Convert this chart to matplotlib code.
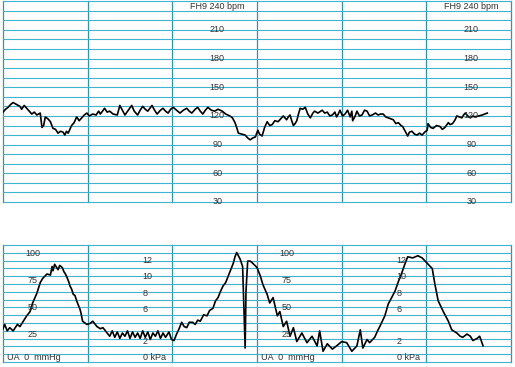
import numpy as np
import matplotlib.pyplot as plt

plt.rcParams['font.family'] = ['Liberation Sans', 'DejaVu Sans']

# fetal heart rate trace (minutes, bpm)
fhr_t = [0.00, 0.03, 0.06, 0.09, 0.12, 0.16, 0.20, 0.22, 0.25, 0.28, 0.31, 0.34, 0.37, 0.40,
         0.44, 0.46, 0.48, 0.50, 0.53, 0.56, 0.59, 0.62, 0.65, 0.68, 0.71, 0.73, 0.75, 0.77,
         0.79, 0.81, 0.84, 0.87, 0.90, 0.93, 0.96, 0.99, 1.02, 1.06, 1.10, 1.13, 1.15, 1.20,
         1.23, 1.26, 1.30, 1.35, 1.38, 1.41, 1.44, 1.48, 1.52, 1.55, 1.59, 1.62, 1.65, 1.68,
         1.71, 1.76, 1.79, 1.82, 1.86, 1.89, 1.92, 1.95, 1.98, 2.01, 2.05, 2.09, 2.13, 2.17,
         2.20, 2.23, 2.27, 2.30, 2.33, 2.36, 2.39, 2.42, 2.46, 2.50, 2.54, 2.59, 2.63, 2.68,
         2.71, 2.74, 2.76, 2.78, 2.82, 2.86, 2.89, 2.92, 2.95, 2.98, 3.01, 3.03, 3.06, 3.09,
         3.12, 3.15, 3.18, 3.21, 3.25, 3.28, 3.31, 3.33, 3.35, 3.37, 3.39, 3.41, 3.43, 3.45,
         3.47, 3.49, 3.51, 3.54, 3.57, 3.60, 3.63, 3.66, 3.68, 3.72, 3.77, 3.80, 3.83, 3.86,
         3.89, 3.92, 3.94, 3.96, 3.98, 4.01, 4.04, 4.07, 4.10, 4.12, 4.13, 4.16, 4.18, 4.21,
         4.24, 4.27, 4.30, 4.33, 4.36, 4.40, 4.43, 4.46, 4.49, 4.52, 4.55, 4.58, 4.61, 4.64,
         4.67, 4.70, 4.72, 4.75, 4.78, 4.80, 4.83, 4.86, 4.89, 4.92, 4.95, 4.98, 5.01, 5.02,
         5.05, 5.08, 5.12, 5.16, 5.19, 5.22, 5.26, 5.28, 5.31, 5.34, 5.36, 5.39, 5.42, 5.44,
         5.46, 5.49, 5.52, 5.55, 5.57, 5.62, 5.66, 5.69, 5.72]
fhr_bpm = [124, 127, 129, 132, 134, 132, 130, 127, 131, 128, 125, 122, 124, 121,
           123, 108, 110, 119, 117, 114, 107, 106, 102, 104, 103, 100, 104, 102,
           106, 110, 113, 119, 115, 118, 121, 123, 120, 122, 121, 125, 122, 128,
           124, 125, 122, 121, 131, 126, 121, 126, 131, 125, 121, 126, 130, 127,
           125, 131, 126, 122, 126, 128, 125, 123, 127, 129, 126, 123, 126, 128,
           125, 123, 127, 129, 125, 122, 126, 129, 126, 125, 127, 125, 122, 120,
           118, 113, 108, 102, 101, 100, 97, 95, 97, 98, 105, 101, 99, 108,
           114, 110, 111, 115, 114, 117, 120, 118, 116, 119, 121, 115, 110, 112,
           115, 122, 128, 127, 129, 122, 118, 123, 125, 123, 126, 123, 124, 120,
           121, 124, 119, 122, 126, 120, 122, 126, 119, 125, 115, 120, 125, 120,
           121, 126, 125, 120, 121, 123, 121, 122, 122, 119, 118, 117, 116, 112,
           113, 110, 109, 104, 99, 103, 104, 101, 100, 102, 100, 103, 105, 112,
           108, 107, 110, 109, 106, 108, 113, 111, 112, 116, 120, 119, 118, 121,
           123, 120, 118, 120, 119, 120, 121, 122, 123]

# uterine activity trace (minutes, mmHg)
ua_t = [0.00, 0.02, 0.05, 0.08, 0.12, 0.17, 0.20, 0.24, 0.28, 0.32, 0.35, 0.40, 0.44, 0.47,
        0.52, 0.56, 0.58, 0.59, 0.61, 0.65, 0.67, 0.70, 0.72, 0.73, 0.75, 0.76, 0.78, 0.79,
        0.81, 0.83, 0.85, 0.87, 0.89, 0.91, 0.92, 0.94, 0.99, 1.03, 1.06, 1.11, 1.15, 1.18,
        1.23, 1.26, 1.29, 1.32, 1.35, 1.38, 1.41, 1.44, 1.47, 1.50, 1.53, 1.56, 1.59, 1.62,
        1.65, 1.68, 1.71, 1.74, 1.77, 1.80, 1.83, 1.86, 1.89, 1.92, 1.96, 1.99, 2.02, 2.05,
        2.08, 2.11, 2.14, 2.17, 2.20, 2.24, 2.27, 2.30, 2.33, 2.37, 2.41, 2.44, 2.48, 2.51,
        2.54, 2.57, 2.60, 2.63, 2.66, 2.69, 2.72, 2.74, 2.76, 2.80, 2.83, 2.86, 2.87, 2.89,
        2.92, 2.95, 3.00, 3.04, 3.07, 3.12, 3.15, 3.19, 3.24, 3.27, 3.31, 3.35, 3.39, 3.43,
        3.47, 3.53, 3.59, 3.65, 3.71, 3.74, 3.78, 3.83, 3.89, 3.94, 4.00, 4.06, 4.12, 4.18,
        4.22, 4.25, 4.30, 4.33, 4.39, 4.43, 4.45, 4.51, 4.55, 4.59, 4.63, 4.67, 4.71, 4.75,
        4.78, 4.84, 4.90, 4.95, 5.01, 5.07, 5.10, 5.14, 5.20, 5.26, 5.30, 5.36, 5.40, 5.43,
        5.48, 5.52, 5.55, 5.60, 5.63, 5.67]
ua_mmhg = [31, 35, 29, 32, 29, 35, 33, 38, 43, 47, 55, 64, 74, 78,
           82, 81, 89, 85, 91, 86, 90, 88, 84, 83, 80, 78, 74, 71,
           68, 63, 62, 57, 53, 49, 46, 38, 35, 36, 38, 33, 31, 32,
           27, 24, 29, 23, 28, 22, 27, 24, 29, 22, 28, 23, 27, 22,
           29, 23, 28, 21, 27, 24, 29, 22, 27, 23, 28, 21, 20, 26,
           31, 37, 33, 32, 37, 37, 35, 39, 38, 44, 43, 48, 50, 57,
           60, 66, 71, 74, 80, 86, 92, 98, 102, 96, 89, 13, 66, 94,
           94, 92, 88, 80, 72, 63, 55, 60, 43, 47, 33, 38, 24, 32,
           19, 27, 18, 24, 15, 29, 10, 17, 12, 15, 19, 18, 10, 15,
           30, 13, 21, 18, 23, 30, 33, 43, 54, 60, 66, 75, 83, 92,
           98, 97, 99, 97, 92, 87, 73, 57, 47, 38, 30, 27, 24, 23,
           26, 24, 20, 22, 24, 15]

fhr_labels = [210, 180, 150, 120, 90, 60, 30]
mmhg_labels = [100, 75, 50, 25]
kpa_labels = [12, 10, 8, 6, 2]
page_starts = [0, 3]

hcol = '#3fb3cd'
vcol = '#2b93b8'
tcol = '#333333'

fig = plt.figure(figsize=(5.15, 3.67), dpi=100)
ax1 = fig.add_axes([3 / 515, 1 - 202 / 367, 508 / 515, 200.8 / 367])
ax2 = fig.add_axes([3 / 515, 1 - 362 / 367, 508 / 515, 117 / 367])

for ax in (ax1, ax2):
    ax.set_xlim(0, 6)
    ax.axis('off')
    for x in range(7):
        ax.axvline(x, color=vcol, lw=0.9, clip_on=False, zorder=1)

# top panel: heart rate
ax1.set_ylim(30, 240)
for y in range(30, 241, 10):
    ax1.axhline(y, color=hcol, lw=0.8, clip_on=False, zorder=1)
ax1.plot(fhr_t, fhr_bpm, color='black', lw=1.2, zorder=3)
for p in page_starts:
    ax1.text(p + 2.53, 234, 'FH9 240 bpm', ha='center', va='center', fontsize=6.5, color=tcol)
    for v in fhr_labels:
        ax1.text(p + 2.53, v, str(v), ha='center', va='center', fontsize=6.5, color=tcol)

# bottom panel: uterine activity
ax2.set_ylim(0, 109)
for y in np.linspace(0, 109, 16):
    ax2.axhline(y, color=hcol, lw=0.8, clip_on=False, zorder=1)
ax2.plot(ua_t, ua_mmhg, color='black', lw=1.2, zorder=3)
for p in page_starts:
    for v in mmhg_labels:
        ax2.text(p + 0.35, v + 1, str(v), ha='center', va='center', fontsize=6.5, color=tcol)
    for v in kpa_labels:
        ax2.text(p + 1.65, v * 7.5, str(v), ha='left', va='bottom', fontsize=6.5, color=tcol)
    ax2.text(p + 0.05, 0, 'UA  0  mmHg', ha='left', va='bottom', fontsize=6.5, color=tcol)
    ax2.text(p + 1.65, 0, '0 kPa', ha='left', va='bottom', fontsize=6.5, color=tcol)

fig.savefig('out.png', dpi=100, facecolor='white')
